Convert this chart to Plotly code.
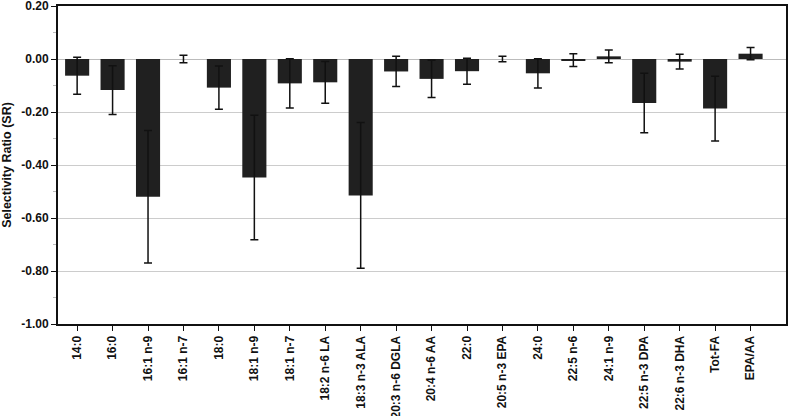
import plotly.graph_objects as go

categories = ["14:0", "16:0", "16:1 n-9", "16:1 n-7", "18:0", "18:1 n-9", "18:1 n-7",
              "18:2 n-6 LA", "18:3 n-3 ALA", "20:3 n-6 DGLA", "20:4 n-6 AA", "22:0",
              "20:5 n-3 EPA", "24:0", "22:5 n-6", "24:1 n-9", "22:5 n-3 DPA",
              "22:6 n-3 DHA", "Tot-FA", "EPA/AA"]
sr_values = [-0.063, -0.117, -0.520, 0.000, -0.108, -0.447, -0.092, -0.088, -0.515,
             -0.047, -0.075, -0.046, 0.000, -0.054, -0.004, 0.010, -0.166, -0.010,
             -0.187, 0.020]
sr_errors = [0.070, 0.092, 0.250, 0.014, 0.082, 0.235, 0.093, 0.079, 0.275,
             0.057, 0.070, 0.049, 0.010, 0.055, 0.024, 0.024, 0.112, 0.028,
             0.122, 0.023]
y_tick_vals = [0.2, 0.0, -0.2, -0.4, -0.6, -0.8, -1.0]
y_tick_text = ["0.20", "0.00", "-0.20", "-0.40", "-0.60", "-0.80", "-1.00"]

font_family = "Liberation Sans, Arial, sans-serif"

fig = go.Figure()
fig.add_trace(go.Bar(
    x=list(range(len(categories))),
    y=sr_values,
    width=0.68,
    marker=dict(color="#202020", line=dict(width=0)),
    error_y=dict(type="data", array=sr_errors, visible=True,
                 color="#111111", thickness=1.5, width=4),
))

fig.update_layout(
    width=788, height=416,
    margin=dict(l=58, r=2, t=6, b=92, autoexpand=False),
    paper_bgcolor="white", plot_bgcolor="white",
    showlegend=False,
    font=dict(family=font_family, size=12, color="#111111"),
    bargap=0.3,
)
fig.update_xaxes(
    range=[-0.54, 20.0], automargin=False, ticklabeloverflow="allow",
    tickmode="array", tickvals=list(range(len(categories))), ticktext=categories,
    tickangle=-90,
    tickfont=dict(family=font_family, size=12, color="#111111", weight="bold"),
    ticks="outside", ticklen=5, tickcolor="#111111", tickwidth=1,
    showline=True, linecolor="#111111", linewidth=2, mirror=True,
    showgrid=False, zeroline=False,
)
fig.update_yaxes(
    range=[-1.0, 0.2], automargin=False, ticklabeloverflow="allow",
    tickmode="array", tickvals=y_tick_vals, ticktext=y_tick_text,
    tickfont=dict(family=font_family, size=12, color="#111111", weight="bold"),
    ticks="outside", ticklen=5, tickcolor="#111111",
    minor=dict(ticks="outside", ticklen=3, tickcolor="#bbbbbb", dtick=0.1, showgrid=False),
    showline=True, linecolor="#111111", linewidth=2, mirror=True,
    showgrid=True, gridcolor="#cccccc", gridwidth=1,
    zeroline=True, zerolinecolor="#bbbbbb", zerolinewidth=1,
    title=dict(text="Selectivity Ratio (SR)", standoff=8,
               font=dict(family=font_family, size=12.5, color="#111111", weight="bold")),
)

fig.write_html("out.html", config={"displayModeBar": False},
               post_script="document.body.style.margin='0px';document.body.style.overflow='hidden';")
